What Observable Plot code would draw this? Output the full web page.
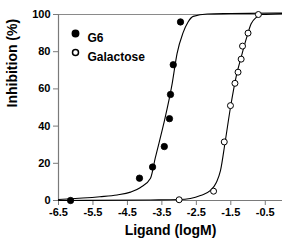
<!DOCTYPE html>
<html>
<head>
<meta charset="utf-8">
<script src="https://cdn.jsdelivr.net/npm/d3@7"></script>
<script src="https://cdn.jsdelivr.net/npm/@observablehq/plot@0.6"></script>
<style>
  html, body { margin: 0; padding: 0; background: #fff; }
  svg { display: block; }
</style>
</head>
<body>
<div id="chart"></div>
<script>
// Data points (log M, % inhibition)
const g6X = [-6.15, -4.15, -3.77, -3.43, -3.28, -3.25, -3.17, -2.96];
const g6Y = [0, 12, 18, 29, 44, 57, 73, 96];
const galX = [-3.0, -2.0, -1.69, -1.51, -1.38, -1.29, -1.2, -1.16, -1.0, -0.7];
const galY = [0.4, 5, 31.5, 51, 63, 69, 76, 83, 90, 100];

// Fitted curves
const g6CurveX = [-6.5, -5.3, -4.8, -4.41, -4.12, -3.83, -3.69, -3.45, -3.2, -3.06, -2.89, -2.74, -2.59, -2.18, -1.5, 0];
const g6CurveY = [0.5, 2, 3, 4.5, 7, 12, 23, 41, 63, 79, 90, 96, 99, 100.3, 100.5, 100.8];
const galCurveX = [-6.5, -3.83, -2.99, -2.38, -2.09, -1.92, -1.8, -1.66, -1.51, -1.34, -1.2, -1.05, -0.91, -0.76, -0.59, 0];
const galCurveY = [0, 0.3, 0.5, 2.7, 5.4, 9.7, 16, 32, 50, 67, 77, 87, 95, 98.5, 100, 100.5];

const xDomain = [-6.5, 0];
const yDomain = [0, 100];
const xTicks = [-6.5, -5.5, -4.5, -3.5, -2.5, -1.5, -0.5];
const yTicks = [0, 20, 40, 60, 80, 100];
const topLine = [100];
const seriesNames = ["G6", "Galactose"];

const g6 = g6X.map((x, i) => ({x, y: g6Y[i]}));
const gal = galX.map((x, i) => ({x, y: galY[i]}));
const g6Curve = g6CurveX.map((x, i) => ({x, y: g6CurveY[i]}));
const galCurve = galCurveX.map((x, i) => ({x, y: galCurveY[i]}));

const font = "'Liberation Sans', Arial, sans-serif";
const axisGray = "#7a7a7a";

const chart = Plot.plot({
  width: 282,
  height: 244,
  marginLeft: 58,
  marginRight: 0,
  marginTop: 14,
  marginBottom: 44,
  style: {fontFamily: font, background: "white", overflow: "visible"},
  x: {domain: xDomain},
  y: {domain: yDomain},
  marks: [
    Plot.ruleY(topLine, {stroke: "#8a8a8a", strokeWidth: 1}),
    Plot.ruleY([yDomain[0]], {stroke: axisGray, strokeWidth: 1.2}),
    Plot.ruleX([xDomain[0]], {stroke: axisGray, strokeWidth: 1.2}),
    Plot.axisX({ticks: xTicks, tickFormat: d => d.toFixed(1), tickSize: 5, tickPadding: 3,
      fontSize: 11, fontWeight: "bold", stroke: axisGray, fill: "black", label: null}),
    Plot.axisY({ticks: yTicks, tickFormat: d => String(d), tickSize: 5, tickPadding: 3,
      fontSize: 11, fontWeight: "bold", stroke: axisGray, fill: "black", label: null}),
    Plot.line(g6Curve, {x: "x", y: "y", stroke: "black", strokeWidth: 1.1, curve: "monotone-x"}),
    Plot.line(galCurve, {x: "x", y: "y", stroke: "black", strokeWidth: 1.1, curve: "monotone-x"}),
    Plot.dot(g6, {x: "x", y: "y", r: 3.2, fill: "black", stroke: "black", strokeWidth: 0.8}),
    Plot.dot(gal, {x: "x", y: "y", r: 3, fill: "white", stroke: "black", strokeWidth: 1}),
    // legend
    Plot.dot([seriesNames[0]], {frameAnchor: "top-left", dx: 17, dy: 19, r: 3.2, fill: "black", stroke: "black"}),
    Plot.dot([seriesNames[1]], {frameAnchor: "top-left", dx: 17, dy: 38, r: 3, fill: "white", stroke: "black"}),
    Plot.text([seriesNames[0]], {frameAnchor: "top-left", dx: 29, dy: 19, text: d => d, textAnchor: "start",
      fontSize: 12, fontWeight: "bold", fill: "black"}),
    Plot.text([seriesNames[1]], {frameAnchor: "top-left", dx: 29, dy: 38, text: d => d, textAnchor: "start",
      fontSize: 12, fontWeight: "bold", fill: "black"}),
    // axis titles
    Plot.text(["Ligand (logM)"], {frameAnchor: "bottom", dy: 34, text: d => d, fontSize: 14, fontWeight: "bold", fill: "black"}),
    Plot.text(["Inhibition (%)"], {frameAnchor: "left", dx: -46, rotate: -90, text: d => d, fontSize: 14, fontWeight: "bold", fill: "black"})
  ]
});
document.getElementById("chart").appendChild(chart);
</script>
</body>
</html>
